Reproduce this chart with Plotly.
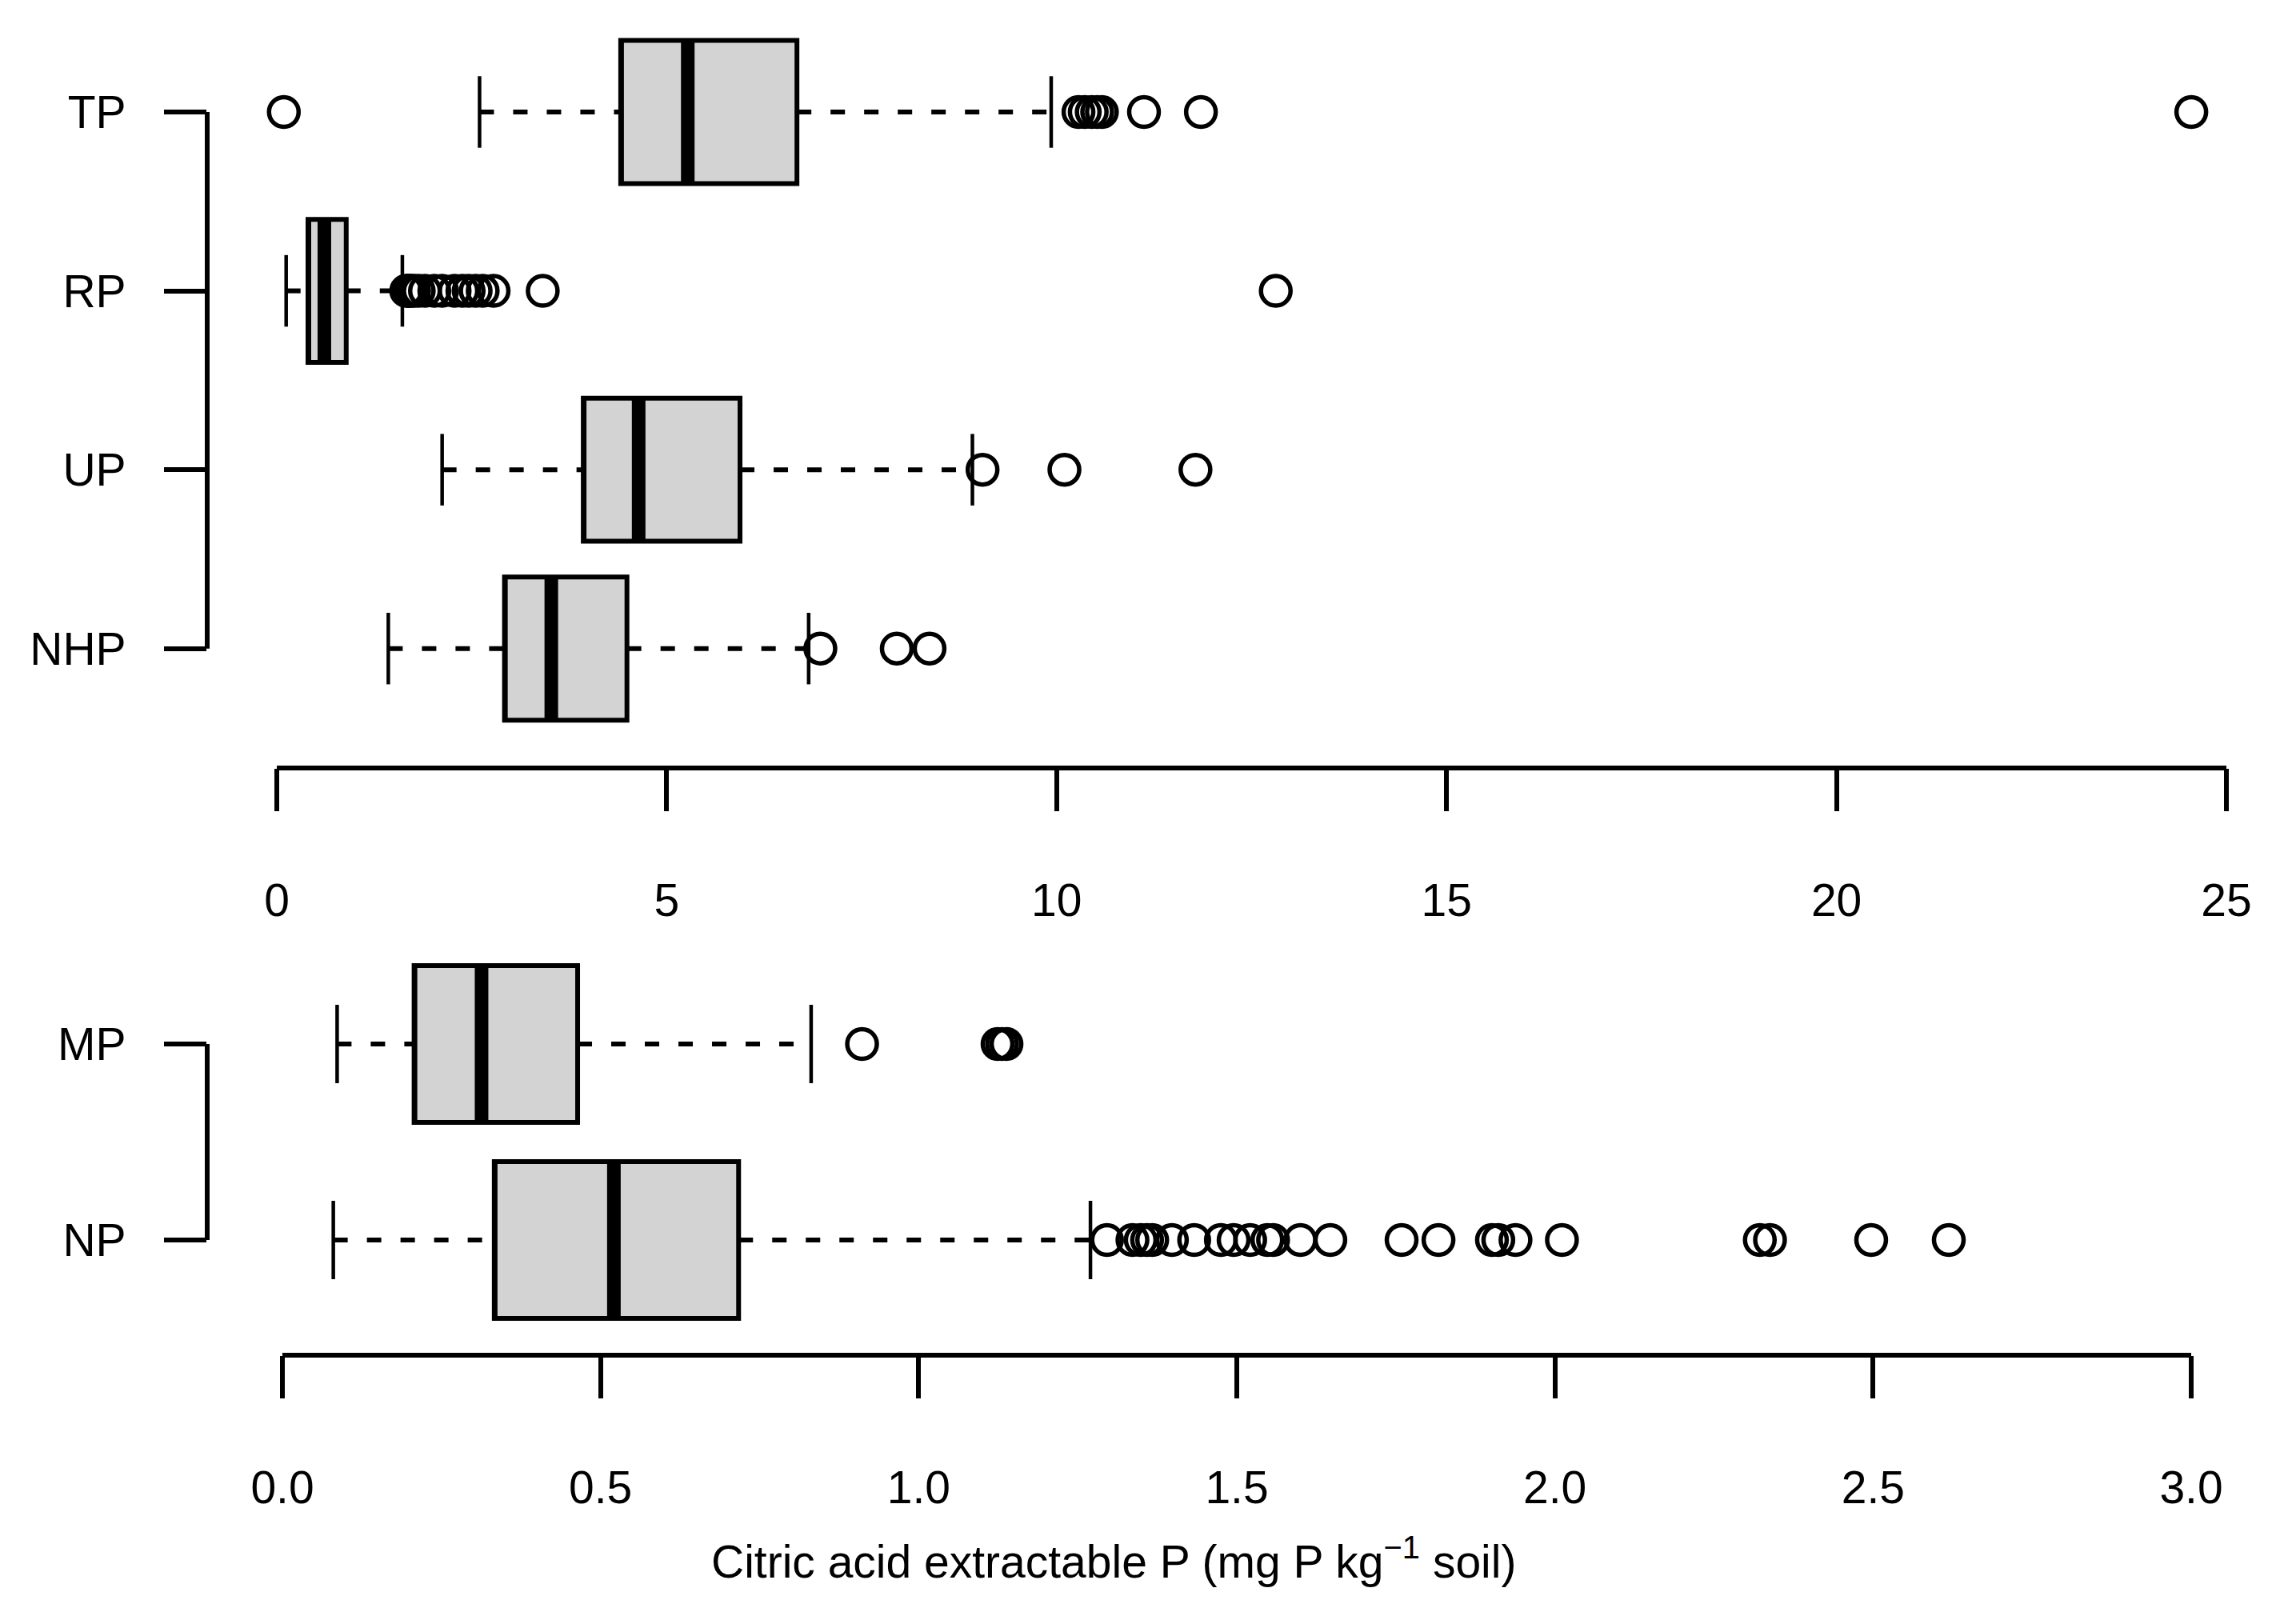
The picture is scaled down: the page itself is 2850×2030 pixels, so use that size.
import plotly.graph_objects as go

# ---- data: top panel (citric acid P pools) ----
top_labels = ["TP", "RP", "UP", "NHP"]
top_pos = [4, 3, 2, 1]
top_whislo = [2.60, 0.12, 2.12, 1.43]
top_q1 = [4.41, 0.40, 3.93, 2.92]
top_median = [5.27, 0.61, 4.64, 3.52]
top_q3 = [6.67, 0.89, 5.94, 4.49]
top_whishi = [9.93, 1.61, 8.92, 6.82]
top_outliers = {
    "TP": [0.09, 10.28, 10.36, 10.45, 10.52, 10.58, 11.12, 11.85, 24.55],
    "RP": [1.66, 1.68, 1.70, 1.73, 1.76, 1.82, 1.90, 2.02, 2.12, 2.28, 2.38,
           2.46, 2.55, 2.64, 2.78, 3.41, 12.81],
    "UP": [9.05, 10.10, 11.78],
    "NHP": [6.97, 7.95, 8.37],
}
top_ticks = [0, 5, 10, 15, 20, 25]
top_ticktext = ["0", "5", "10", "15", "20", "25"]

# ---- data: bottom panel ----
bot_labels = ["MP", "NP"]
bot_pos = [2, 1]
bot_whislo = [0.086, 0.080]
bot_q1 = [0.207, 0.333]
bot_median = [0.313, 0.521]
bot_q3 = [0.464, 0.717]
bot_whishi = [0.831, 1.270]
bot_outliers = {
    "MP": [0.911, 1.124, 1.131, 1.138],
    "NP": [1.296, 1.336, 1.349, 1.359, 1.367, 1.398, 1.433, 1.475, 1.495,
           1.521, 1.548, 1.557, 1.600, 1.647, 1.759, 1.817, 1.901, 1.911,
           1.938, 2.011, 2.322, 2.338, 2.497, 2.619],
}
bot_ticks = [0.0, 0.5, 1.0, 1.5, 2.0, 2.5, 3.0]
bot_ticktext = ["0.0", "0.5", "1.0", "1.5", "2.0", "2.5", "3.0"]

x_title = "Citric acid extractable P (mg P kg<sup>\u22121</sup> soil)"

# ---- style ----
W, H = 2850, 2030
FONT = "Liberation Sans, Arial, sans-serif"
FS = 57
LW = 6
BOXW = 0.8
FILL = "#D3D3D3"

fig = go.Figure()


def add_panel(xa, ya, labels, pos, wlo, q1, med, q3, whi, outl):
    # whiskers (dashed) from box edge to whisker ends, caps, median bar
    wx, wy, cx, cy, mx, my = [], [], [], [], [], []
    for p, a, b, c, d, m in zip(pos, wlo, q1, q3, whi, med):
        wx += [a, b, None, c, d, None]
        wy += [p, p, None, p, p, None]
        cx += [a, a, None, d, d, None]
        cy += [p - BOXW / 4, p + BOXW / 4, None, p - BOXW / 4, p + BOXW / 4, None]
        mx += [m, m, None]
        my += [p - BOXW / 2, p + BOXW / 2, None]
    fig.add_trace(go.Scatter(x=wx, y=wy, mode="lines", xaxis=xa, yaxis=ya,
                             line=dict(color="black", width=LW, dash="18px,24px"),
                             showlegend=False, hoverinfo="skip"))
    fig.add_trace(go.Scatter(x=cx, y=cy, mode="lines", xaxis=xa, yaxis=ya,
                             line=dict(color="black", width=4.5),
                             showlegend=False, hoverinfo="skip"))
    fig.add_trace(go.Box(
        orientation="h", y=pos, q1=q1, median=q1, q3=q3,
        lowerfence=q1, upperfence=q3, width=BOXW, whiskerwidth=0,
        fillcolor=FILL, line=dict(color="black", width=LW),
        boxpoints=False, xaxis=xa, yaxis=ya, showlegend=False))
    fig.add_trace(go.Scatter(x=mx, y=my, mode="lines", xaxis=xa, yaxis=ya,
                             line=dict(color="black", width=17),
                             showlegend=False, hoverinfo="skip"))
    for lab, p in zip(labels, pos):
        pts = outl[lab]
        fig.add_trace(go.Scatter(
            x=pts, y=[p] * len(pts), mode="markers", xaxis=xa, yaxis=ya,
            marker=dict(symbol="circle-open", size=37, color="black",
                        line=dict(width=5.5, color="black")),
            showlegend=False, name=lab))


add_panel("x", "y", top_labels, top_pos, top_whislo, top_q1, top_median,
          top_q3, top_whishi, top_outliers)
add_panel("x2", "y2", bot_labels, bot_pos, bot_whislo, bot_q1, bot_median,
          bot_q3, bot_whishi, bot_outliers)

L, R = 259, 16
plot_w = W - L - R
# top panel: 0 -> 346 px, 25 -> 2783 px
top_ppu = (2783 - 346) / 25
top_xr = [-(346 - L) / top_ppu, -(346 - L) / top_ppu + plot_w / top_ppu]
# bottom panel: 0 -> 353 px, 3 -> 2739 px
bot_ppu = (2739 - 353) / 3
bot_xr = [-(353 - L) / bot_ppu, -(353 - L) / bot_ppu + plot_w / bot_ppu]

# vertical: top panel rows TP at 140 px, spacing 223.6; axis at 960 px
top_bottom_px, top_top_px = 960, 0
top_yr = [1 - (top_bottom_px - 810.7) / 223.6, 4 + (140 - top_top_px) / 223.6]
bot_bottom_px, bot_top_px = 1694, 1160
bot_yr = [1 - (bot_bottom_px - 1550) / 245, 2 + (1305 - bot_top_px) / 245]

axis_common = dict(showgrid=False, zeroline=False, showline=False,
                   ticks="outside", ticklen=53, tickwidth=LW, tickcolor="black",
                   tickfont=dict(family=FONT, size=FS, color="black"))

fig.update_layout(
    width=W, height=H,
    margin=dict(l=L, r=R, t=0, b=0),
    paper_bgcolor="white", plot_bgcolor="white",
    font=dict(family=FONT, size=FS, color="black"),
    xaxis=dict(domain=[0, 1], range=top_xr, anchor="y", tickmode="array",
               tickvals=top_ticks, ticktext=top_ticktext,
               ticklabelstandoff=63, **axis_common),
    yaxis=dict(domain=[1 - top_bottom_px / H, 1 - top_top_px / H], range=top_yr,
               anchor="x", tickmode="array", tickvals=top_pos,
               ticktext=top_labels, ticklabelstandoff=36, **axis_common),
    xaxis2=dict(domain=[0, 1], range=bot_xr, anchor="y2", tickmode="array",
                tickvals=bot_ticks, ticktext=bot_ticktext,
                ticklabelstandoff=63, **axis_common),
    yaxis2=dict(domain=[1 - bot_bottom_px / H, 1 - bot_top_px / H], range=bot_yr,
                anchor="x2", tickmode="array", tickvals=bot_pos,
                ticktext=bot_labels, ticklabelstandoff=36, **axis_common),
)

# R-style axis lines spanning first to last tick only
fig.add_shape(type="line", xref="x", yref="y domain", x0=top_ticks[0],
              x1=top_ticks[-1], y0=0, y1=0, line=dict(color="black", width=LW))
fig.add_shape(type="line", xref="x2", yref="y2 domain", x0=bot_ticks[0],
              x1=bot_ticks[-1], y0=0, y1=0, line=dict(color="black", width=LW))
fig.add_shape(type="line", xref="x domain", yref="y", x0=0, x1=0,
              y0=min(top_pos), y1=max(top_pos), line=dict(color="black", width=LW))
fig.add_shape(type="line", xref="x2 domain", yref="y2", x0=0, x1=0,
              y0=min(bot_pos), y1=max(bot_pos), line=dict(color="black", width=LW))

fig.add_annotation(text=x_title, xref="paper", yref="paper",
                   x=(1392 - L) / plot_w, y=1 - 1948 / H,
                   xanchor="center", yanchor="middle", showarrow=False,
                   font=dict(family=FONT, size=FS, color="black"))

# drop the default page margin so the figure sits at the window origin
fig.write_html("out.html", config={"displayModeBar": False},
               post_script="document.body.style.margin='0';")
